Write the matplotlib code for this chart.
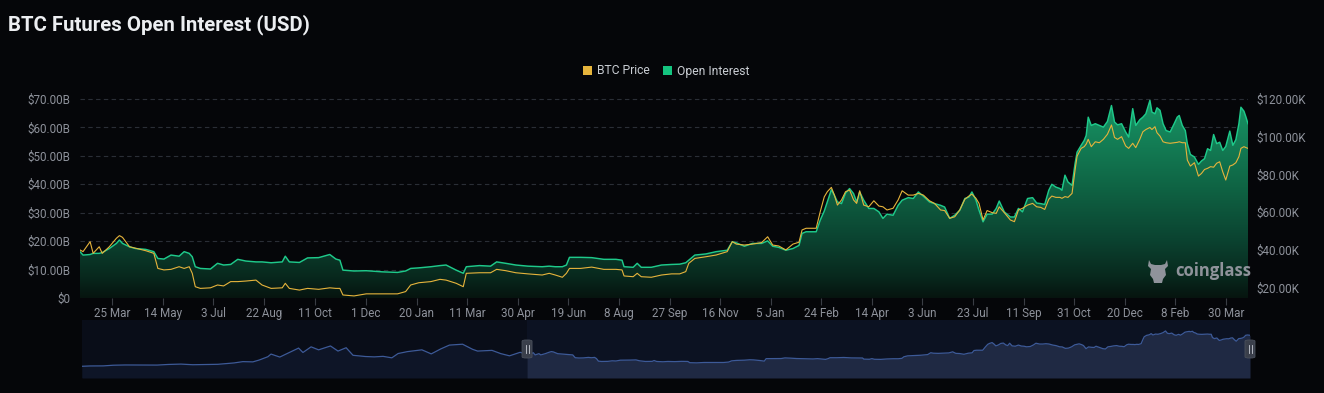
import matplotlib
matplotlib.use("Agg")
import matplotlib.pyplot as plt
import matplotlib.dates as mdates
import numpy as np
import pandas as pd
from matplotlib.colors import LinearSegmentedColormap
from matplotlib.patches import Patch, FancyBboxPatch, Polygon

plt.rcParams['font.family'] = ['Roboto', 'DejaVu Sans']

BG = "#050609"
TICK = "#8e929b"
OI_COLOR = "#1ec98a"
PRICE_COLOR = "#e6b43c"

# main window: open interest (USD bn) and BTC price (USD k)
dates = [
    "2022-02-21", "2022-02-24", "2022-03-03", "2022-03-06", "2022-03-12", "2022-03-15", "2022-03-22",
    "2022-03-29", "2022-04-01", "2022-04-04", "2022-04-11", "2022-04-17", "2022-04-27", "2022-05-05",
    "2022-05-09", "2022-05-15", "2022-05-22", "2022-05-30", "2022-06-04", "2022-06-09", "2022-06-12",
    "2022-06-15", "2022-06-20", "2022-06-30", "2022-07-07", "2022-07-13", "2022-07-20", "2022-07-27",
    "2022-08-04", "2022-08-14", "2022-08-20", "2022-08-29", "2022-09-09", "2022-09-12", "2022-09-16",
    "2022-09-26", "2022-10-04", "2022-10-15", "2022-10-26", "2022-11-01", "2022-11-05", "2022-11-08",
    "2022-11-19", "2022-12-01", "2022-12-17", "2023-01-01", "2023-01-09", "2023-01-14", "2023-01-22",
    "2023-02-03", "2023-02-12", "2023-02-18", "2023-02-28", "2023-03-07", "2023-03-10", "2023-03-23",
    "2023-04-03", "2023-04-09", "2023-04-18", "2023-04-28", "2023-05-10", "2023-05-24", "2023-05-31",
    "2023-06-06", "2023-06-13", "2023-06-17", "2023-06-20", "2023-07-01", "2023-07-12", "2023-07-24",
    "2023-08-05", "2023-08-11", "2023-08-13", "2023-08-22", "2023-08-26", "2023-08-30", "2023-09-09",
    "2023-09-19", "2023-09-29", "2023-10-07", "2023-10-13", "2023-10-16", "2023-10-22", "2023-11-02",
    "2023-11-12", "2023-11-23", "2023-11-28", "2023-12-02", "2023-12-10", "2023-12-18", "2023-12-27",
    "2024-01-02", "2024-01-07", "2024-01-13", "2024-01-20", "2024-01-27", "2024-02-02", "2024-02-05",
    "2024-02-09", "2024-02-19", "2024-02-23", "2024-02-27", "2024-03-01", "2024-03-05", "2024-03-08",
    "2024-03-11", "2024-03-15", "2024-03-19", "2024-03-23", "2024-03-27", "2024-03-30", "2024-04-02",
    "2024-04-06", "2024-04-11", "2024-04-16", "2024-04-21", "2024-04-25", "2024-04-29", "2024-05-05",
    "2024-05-10", "2024-05-14", "2024-05-20", "2024-05-25", "2024-05-30", "2024-06-04", "2024-06-10",
    "2024-06-15", "2024-06-21", "2024-06-25", "2024-06-30", "2024-07-05", "2024-07-10", "2024-07-15",
    "2024-07-19", "2024-07-22", "2024-07-26", "2024-07-29", "2024-08-02", "2024-08-06", "2024-08-11",
    "2024-08-15", "2024-08-18", "2024-08-23", "2024-08-29", "2024-09-02", "2024-09-06", "2024-09-10",
    "2024-09-15", "2024-09-20", "2024-09-24", "2024-09-28", "2024-10-02", "2024-10-06", "2024-10-09",
    "2024-10-13", "2024-10-17", "2024-10-19", "2024-10-22", "2024-10-25", "2024-10-29", "2024-11-01",
    "2024-11-03", "2024-11-07", "2024-11-10", "2024-11-12", "2024-11-14", "2024-11-17", "2024-11-21",
    "2024-11-25", "2024-11-29", "2024-12-03", "2024-12-07", "2024-12-10", "2024-12-13", "2024-12-17",
    "2024-12-21", "2024-12-24", "2024-12-28", "2024-12-31", "2025-01-04", "2025-01-07", "2025-01-10",
    "2025-01-14", "2025-01-16", "2025-01-19", "2025-01-21", "2025-01-24", "2025-01-27", "2025-01-30",
    "2025-02-03", "2025-02-07", "2025-02-10", "2025-02-12", "2025-02-15", "2025-02-18", "2025-02-20",
    "2025-02-23", "2025-02-27", "2025-03-03", "2025-03-06", "2025-03-09", "2025-03-12", "2025-03-15",
    "2025-03-18", "2025-03-21", "2025-03-24", "2025-03-27", "2025-03-30", "2025-04-03", "2025-04-06",
    "2025-04-09", "2025-04-12", "2025-04-14", "2025-04-17", "2025-04-19", "2025-04-21",
]
open_interest = [
    16.3, 15.1, 15.3, 15.7, 15.7, 16.0, 17.4, 19.2, 20.4, 19.2, 18.0, 17.4, 17.1, 16.3,
    13.9, 13.7, 15.1, 14.7, 16.3, 15.7, 14.5, 11.0, 10.4, 10.2, 12.2, 11.6, 11.8, 13.6,
    13.0, 12.7, 12.7, 12.4, 12.7, 14.7, 12.7, 12.5, 14.1, 14.2, 15.3, 13.7, 13.3, 9.8,
    9.5, 9.6, 9.2, 9.0, 9.5, 10.4, 10.6, 11.0, 11.4, 11.6, 9.8, 8.7, 11.0, 11.4,
    11.2, 12.7, 12.2, 11.6, 11.2, 11.0, 11.2, 11.0, 11.0, 11.6, 14.3, 14.3, 14.2, 13.6,
    13.6, 13.3, 11.0, 10.8, 12.2, 10.8, 10.8, 11.6, 11.8, 11.9, 12.4, 13.3, 15.1, 15.5,
    16.3, 16.8, 19.8, 19.4, 18.2, 19.2, 19.2, 20.1, 18.2, 17.8, 16.8, 17.4, 18.5, 22.7,
    23.3, 23.3, 27.4, 30.6, 33.8, 38.1, 36.1, 33.8, 33.2, 36.9, 38.5, 36.7, 33.8, 37.3,
    34.4, 31.5, 31.5, 30.3, 28.0, 29.5, 29.1, 32.6, 34.4, 35.3, 35.0, 37.3, 35.8, 33.8,
    33.2, 32.6, 32.0, 28.0, 29.1, 30.9, 35.0, 35.5, 37.3, 34.4, 30.9, 26.8, 29.5, 29.5,
    31.5, 34.1, 30.3, 28.5, 28.5, 31.5, 30.3, 35.0, 35.3, 33.4, 33.2, 32.9, 37.9, 40.0,
    39.0, 38.5, 37.9, 43.2, 40.8, 39.6, 47.3, 51.3, 53.7, 55.4, 57.2, 63.6, 60.7, 61.3,
    60.7, 60.1, 62.1, 67.7, 61.9, 60.9, 61.3, 58.4, 56.6, 66.6, 60.7, 62.7, 63.6, 64.8,
    69.5, 65.4, 64.8, 66.9, 66.0, 61.3, 58.9, 58.4, 61.3, 63.6, 64.2, 60.7, 58.9, 54.3,
    50.5, 49.6, 47.0, 48.2, 49.0, 52.5, 51.9, 57.5, 54.3, 54.8, 51.9, 53.3, 58.7, 53.7,
    55.7, 61.3, 67.1, 65.7, 63.6, 61.3,
]
btc_price = [
    39.9, 39.0, 44.3, 38.1, 41.6, 38.1, 41.6, 46.1, 47.5, 46.6, 41.6, 40.8, 39.5, 38.1,
    30.1, 29.3, 29.6, 31.0, 30.1, 31.0, 27.5, 20.4, 19.5, 19.8, 21.3, 20.8, 23.1, 23.1,
    23.4, 23.9, 21.3, 19.5, 19.8, 22.2, 19.5, 18.6, 19.5, 19.0, 19.8, 19.5, 19.5, 16.0,
    15.5, 16.6, 16.6, 16.6, 17.8, 21.3, 22.5, 23.1, 24.3, 23.9, 22.2, 20.4, 27.5, 27.8,
    27.8, 29.6, 28.9, 27.8, 27.2, 26.6, 27.5, 26.6, 25.4, 27.5, 30.1, 30.1, 30.8, 29.6,
    29.6, 29.3, 26.1, 25.7, 27.5, 25.7, 25.4, 26.6, 27.2, 27.2, 28.4, 32.8, 35.4, 36.3,
    37.2, 39.0, 44.3, 43.0, 42.5, 43.0, 43.8, 46.9, 42.5, 42.0, 39.9, 43.0, 44.0, 50.5,
    51.4, 51.4, 60.2, 68.1, 70.8, 73.1, 69.0, 63.7, 66.4, 70.8, 71.7, 66.4, 64.6, 71.3,
    63.7, 62.8, 66.0, 63.2, 62.8, 61.1, 62.0, 66.4, 71.3, 69.0, 69.0, 69.9, 69.0, 66.0,
    64.6, 61.1, 60.8, 56.7, 57.5, 61.1, 66.8, 68.5, 69.5, 67.3, 64.6, 55.8, 60.8, 59.7,
    59.3, 62.8, 59.7, 55.8, 54.9, 61.1, 62.0, 63.7, 64.6, 62.8, 62.5, 61.4, 66.8, 68.5,
    67.8, 67.8, 67.3, 68.2, 67.8, 69.9, 82.3, 89.7, 93.8, 94.7, 96.1, 98.6, 94.7, 97.3,
    96.8, 98.6, 101.3, 106.2, 99.6, 98.6, 100.0, 95.1, 93.8, 96.5, 94.2, 98.6, 102.6, 103.8,
    104.9, 103.8, 105.3, 102.1, 100.3, 97.3, 96.8, 96.5, 96.8, 97.0, 97.3, 96.8, 96.8, 87.6,
    84.4, 86.2, 79.1, 80.5, 82.6, 83.2, 84.1, 83.8, 85.9, 86.7, 81.4, 77.0, 84.4, 85.0,
    86.2, 89.4, 93.8, 94.7, 94.2, 93.8,
]

# navigator: BTC price before the selected window (USD k)
nav_dates = [
    "2020-03-12", "2020-03-25", "2020-04-15", "2020-05-01", "2020-05-20", "2020-06-15", "2020-07-10",
    "2020-07-28", "2020-08-17", "2020-09-05", "2020-09-25", "2020-10-15", "2020-10-28", "2020-11-10",
    "2020-11-24", "2020-12-10", "2020-12-20", "2021-01-03", "2021-01-08", "2021-01-22", "2021-02-08",
    "2021-02-21", "2021-02-28", "2021-03-13", "2021-03-25", "2021-04-13", "2021-04-25", "2021-05-08",
    "2021-05-19", "2021-06-08", "2021-06-22", "2021-07-06", "2021-07-20", "2021-07-30", "2021-08-14",
    "2021-08-23", "2021-09-06", "2021-09-21", "2021-10-06", "2021-10-20", "2021-11-10", "2021-11-26",
    "2021-12-04", "2021-12-27", "2022-01-10", "2022-01-24", "2022-02-10",
]
nav_price = [
    5.8, 6.7, 6.9, 8.8, 9.5, 9.4, 9.2, 11.0, 12.0, 10.2, 10.7, 11.4, 13.5, 15.3,
    19.0, 18.3, 23.5, 33.0, 40.5, 32.0, 46.5, 57.5, 45.0, 61.0, 52.5, 63.5, 49.0, 58.5,
    37.0, 33.5, 32.5, 34.0, 29.8, 42.0, 47.5, 49.5, 52.5, 41.0, 55.0, 66.0, 68.5, 54.0,
    49.0, 51.0, 41.8, 35.5, 45.5,
]

oi_ticks = [0, 10, 20, 30, 40, 50, 60, 70]
price_ticks = [20, 40, 60, 80, 100, 120]
x_tick_dates = [
    "2022-03-25", "2022-05-14", "2022-07-03", "2022-08-22", "2022-10-11", "2022-12-01",
    "2023-01-20", "2023-03-11", "2023-04-30", "2023-06-19", "2023-08-08", "2023-09-27",
    "2023-11-16", "2024-01-05", "2024-02-24", "2024-04-14", "2024-06-03", "2024-07-23",
    "2024-09-11", "2024-10-31", "2024-12-20", "2025-02-08", "2025-03-30",
]

W, H = 1324, 393
fig = plt.figure(figsize=(W / 100, H / 100), dpi=100, facecolor=BG)

x = mdates.date2num(pd.to_datetime(dates))
oi = np.array(open_interest)
price = np.array(btc_price)

ax = fig.add_axes([80 / W, 1 - 298 / H, 1168 / W, 206 / H])
ax.set_facecolor(BG)
oi_top = 70 + 7 / 2.85

# gradient fill under the open interest line, clipped to the area
area = ax.fill_between(x, oi, 0, color="none", lw=0)
cmap = LinearSegmentedColormap.from_list(
    "oi", [(0, "#06140f"), (0.1, "#08281d"), (0.29, "#0b4431"), (0.54, "#0f6444"),
           (0.88, "#168c5f"), (1.0, "#18a06b")])
grad = np.linspace(0, 1, 256).reshape(-1, 1)
img = ax.imshow(grad, aspect="auto", cmap=cmap, origin="lower",
                extent=[x[0], x[-1], 0, oi_top], zorder=1)
img.set_clip_path(area.get_paths()[0], transform=ax.transData)
ax.plot(x, oi, color=OI_COLOR, lw=1.05, zorder=3)
ax.set_xlim(x[0], x[-1])
ax.set_ylim(0, oi_top)

ax.set_yticks(oi_ticks)
ax.set_yticklabels(["$0"] + [f"${v:.2f}B" for v in oi_ticks[1:]])
ax.grid(axis="y", color="#2a2e36", lw=0.8, ls=(0, (4, 3)))
ax.set_axisbelow(True)

tick_dates = pd.to_datetime(x_tick_dates)
ax.set_xticks(mdates.date2num(tick_dates))
ax.set_xticklabels([f"{d.day} {d.strftime('%b')}" for d in tick_dates])
ax.tick_params(axis="x", colors="#3a3d44", labelcolor=TICK, labelsize=8.4, length=5, width=0.8, pad=1.5)
ax.tick_params(axis="y", length=0, labelcolor=TICK, labelsize=8.4, pad=7)
for s in ax.spines.values():
    s.set_visible(False)

ax2 = ax.twinx()
ax2.set_ylim(14.4, 120 + 7 / 1.885)
ax2.plot(x, price, color=PRICE_COLOR, lw=0.8, zorder=4)
ax2.set_yticks(price_ticks)
ax2.set_yticklabels([f"${v:.2f}K" for v in price_ticks])
ax2.tick_params(axis="y", length=0, labelcolor=TICK, labelsize=8.4, pad=6)
for s in ax2.spines.values():
    s.set_visible(False)

# watermark
fig.text(1175 / W, 1 - 271 / H, "coinglass", color="#8f939b", fontsize=12,
         fontweight="bold", family=["Open Sans", "DejaVu Sans"], va="center", ha="left")
bull_px = [(1149, 260), (1151, 264), (1155, 265), (1161, 265), (1165, 264), (1167, 260),
           (1168, 266), (1165, 269), (1166, 275), (1163, 279), (1162, 283), (1154, 283),
           (1153, 279), (1150, 275), (1151, 269), (1148, 266)]
fig.patches.append(Polygon([(px / W, 1 - py / H) for px, py in bull_px], closed=True,
                           transform=fig.transFigure, color="#8f939b", lw=0))

# title and legend
fig.text(8 / W, 1 - 25 / H, "BTC Futures Open Interest (USD)", color="#eceef1",
         fontsize=14.7, fontweight="bold", va="center", ha="left")
handles = [Patch(facecolor=PRICE_COLOR, label="BTC Price"),
           Patch(facecolor="#14c47f", label="Open Interest")]
fig.legend(handles=handles, loc="center", bbox_to_anchor=(666 / W, 1 - 71 / H), ncol=2,
           frameon=False, fontsize=8.7, labelcolor="#c9cdd3", handlelength=0.75,
           handleheight=0.75, handletextpad=0.4, columnspacing=1.1)

# navigator
nav = fig.add_axes([82 / W, 1 - 378 / H, 1168 / W, 58 / H])
nav.set_facecolor("#090d18")
nx = np.concatenate([mdates.date2num(pd.to_datetime(nav_dates)), x])
ny = np.concatenate([nav_price, price])
nav.set_xlim(nx[0], nx[-1])
nav.set_ylim(-27.5, 137.3)
nav.axvspan(x[0], x[-1], color="#0c1222", lw=0, zorder=0)
sel = nx >= x[0]
nav.fill_between(nx[nx <= x[0]], ny[nx <= x[0]], -27.5, color="#0e1527", lw=0, zorder=1)
nav.fill_between(nx[sel], ny[sel], -27.5, color="#1f2943", lw=0, zorder=1)
nav.plot(nx, ny, color="#3d5a98", lw=0.9, zorder=2)
nav.set_xticks([])
nav.set_yticks([])
for s in nav.spines.values():
    s.set_visible(False)
for hx in (x[0], x[-1]):
    px = nav.transData.transform((hx, 0))[0] / W
    fig.patches.append(FancyBboxPatch((px - 5 / W, 1 - 358 / H), 10 / W, 18 / H,
                                      boxstyle="round,pad=0,rounding_size=0.003",
                                      transform=fig.transFigure, facecolor="#3a3f4b",
                                      edgecolor="#4a505c", lw=0.6, zorder=5))
    for off in (-1.5, 1.5):
        fig.add_artist(plt.Line2D([px + off / W] * 2, [1 - 353 / H, 1 - 345 / H],
                                  transform=fig.transFigure, color="#c8ccd4", lw=0.6, zorder=6))

fig.savefig("out.png", dpi=100, facecolor=BG)
